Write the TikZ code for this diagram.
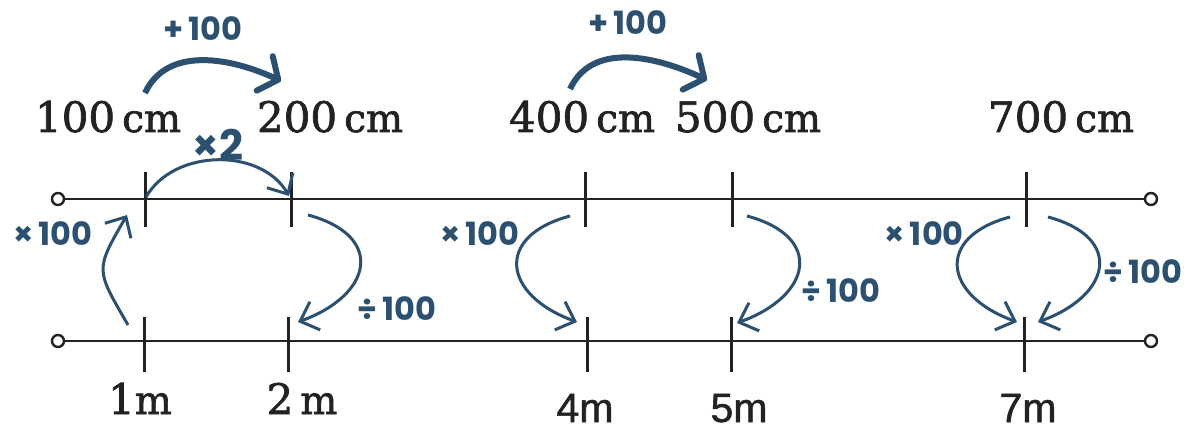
\documentclass[tikz,border=0pt]{standalone}
\usepackage{fontspec}
\newfontfamily\pop{Poppins}
\newfontfamily\lsans{Liberation Sans}
\newfontfamily\dser{DejaVu Serif}
\newcommand\unitsz{\fontsize{39}{44}\selectfont}
\newcommand\heavytext[1]{\special{pdf:literal direct 2 Tr 0.7 w}#1\special{pdf:literal direct 0 Tr}}
\newcommand\lighttext[1]{\special{pdf:literal direct 2 Tr 0.5 w}#1\special{pdf:literal direct 0 Tr}}
\usetikzlibrary{arrows.meta}
\definecolor{ink}{RGB}{34,34,34}
\definecolor{opblue}{RGB}{44,80,112}
\begin{document}
\begin{tikzpicture}[x=1pt,y=1pt,
  axis/.style={line width=2.8pt, draw=ink},
  tickmark/.style={line width=3pt, draw=ink},
  endcirc/.style={circle, draw=ink, line width=2.4pt, fill=white, inner sep=0pt, minimum size=12pt},
  cmlabel/.style={anchor=base, text=ink, inner sep=0pt, font=\dser\fontsize{42}{46}\selectfont},
  msans/.style={anchor=base, text=ink, inner sep=0pt, font=\lsans\fontsize{41}{45}\selectfont},
  oplabel/.style={text=opblue, inner sep=0pt, font=\pop\bfseries\fontsize{32}{36}\selectfont},
  biglabel/.style={text=opblue, inner sep=0pt, font=\pop\bfseries\fontsize{42}{46}\selectfont},
  bigarc/.style={draw=opblue, line width=6pt, -{Straight Barb[length=15pt,width=38pt,round]}},
  thinarc/.style={draw=opblue, line width=3pt, -{Straight Barb[length=16pt,width=30pt]}},
]
\useasboundingbox (0,0) rectangle (1198,434);

% axes
\node[endcirc] (tl) at (58,235) {};
\node[endcirc] (tr) at (1151,235) {};
\node[endcirc] (bl) at (58,93) {};
\node[endcirc] (br) at (1151,93) {};
\draw[axis] (tl) -- (tr);
\draw[axis] (bl) -- (br);

% tick positions
\coordinate (t1) at (145,235);
\coordinate (t2) at (291,235);
\coordinate (t4) at (585,235);
\coordinate (t5) at (732,235);
\coordinate (t7) at (1026,235);
\coordinate (b1) at (144,93);
\coordinate (b2) at (288,93);
\coordinate (b4) at (587,93);
\coordinate (b5) at (731,93);
\coordinate (b7) at (1024,93);
\foreach \t in {t1,t2,t4,t5,t7} \draw[tickmark] (\t) ++(0,-28) -- ++(0,55);
\foreach \t in {b1,b2,b4,b5,b7} \draw[tickmark] (\t) ++(0,-31) -- ++(0,55);

% labels
\node[cmlabel] (c100) at (108,302) {\heavytext{100\,{\unitsz cm}}};
\node[cmlabel] (c200) at (330,302) {\heavytext{200\,{\unitsz cm}}};
\node[cmlabel] (c400) at (582,302) {\heavytext{400\,{\unitsz cm}}};
\node[cmlabel] (c500) at (748,302) {\heavytext{500\,{\unitsz cm}}};
\node[cmlabel] (c700) at (1061,302) {\heavytext{700\,{\unitsz cm}}};
\node[cmlabel] (m1) at (140,20) {\heavytext{1{\unitsz m}}};
\node[cmlabel] (m2) at (302,20) {\heavytext{2\,{\unitsz m}}};
\node[msans] (m4) at (585,12) {\lighttext{4m}};
\node[msans] (m5) at (739,12) {\lighttext{5m}};
\node[msans] (m7) at (1028,12) {\lighttext{7m}};

% operation labels
\node[oplabel] (p1) at (203,405) {+\,100};
\node[oplabel] (p2) at (628,411) {+\,100};
\node[biglabel] (x2) at (218,289) {×2};
\node[oplabel] (xa) at (53,200) {×\,100};
\node[oplabel] (xb) at (480,200) {×\,100};
\node[oplabel] (xc) at (924,200) {×\,100};
\node[oplabel] (da) at (397,125) {÷\,100};
\node[oplabel] (db) at (841,143) {÷\,100};
\node[oplabel] (dc) at (1143,162) {÷\,100};

% arc end points
\coordinate (a1s) at (145,341); \coordinate (a1e) at (281,353);
\coordinate (a2s) at (570,345); \coordinate (a2e) at (707,354);
\coordinate (k1s) at (146,237); \coordinate (k1e) at (289,238);
\coordinate (u1s) at (128,109); \coordinate (u1e) at (127,219);
\coordinate (d2s) at (308,219); \coordinate (d2e) at (298,112);
\coordinate (d4s) at (570,218); \coordinate (d4e) at (577,112);
\coordinate (d5s) at (747,218); \coordinate (d5e) at (737,111);
\coordinate (d7s) at (1010,217); \coordinate (d7e) at (1017,112);
\coordinate (e7s) at (1048,217); \coordinate (e7e) at (1038,112);

% arcs
\draw[bigarc] (a1s) to[out=65,in=155] (a1e);
\draw[bigarc] (a2s) to[out=65,in=155] (a2e);
\draw[thinarc] (k1s) to[out=60,in=120] (k1e);
\draw[thinarc] (u1s) to[out=120,in=240,looseness=1.5] (u1e);
\draw[thinarc] (d2s) to[out=-15,in=20,looseness=1.9] (d2e);
\draw[thinarc] (d4s) to[out=195,in=160,looseness=1.9] (d4e);
\draw[thinarc] (d5s) to[out=-15,in=20,looseness=1.9] (d5e);
\draw[thinarc] (d7s) to[out=195,in=160,looseness=1.9] (d7e);
\draw[thinarc] (e7s) to[out=-15,in=20,looseness=1.9] (e7e);
\end{tikzpicture}
\end{document}
